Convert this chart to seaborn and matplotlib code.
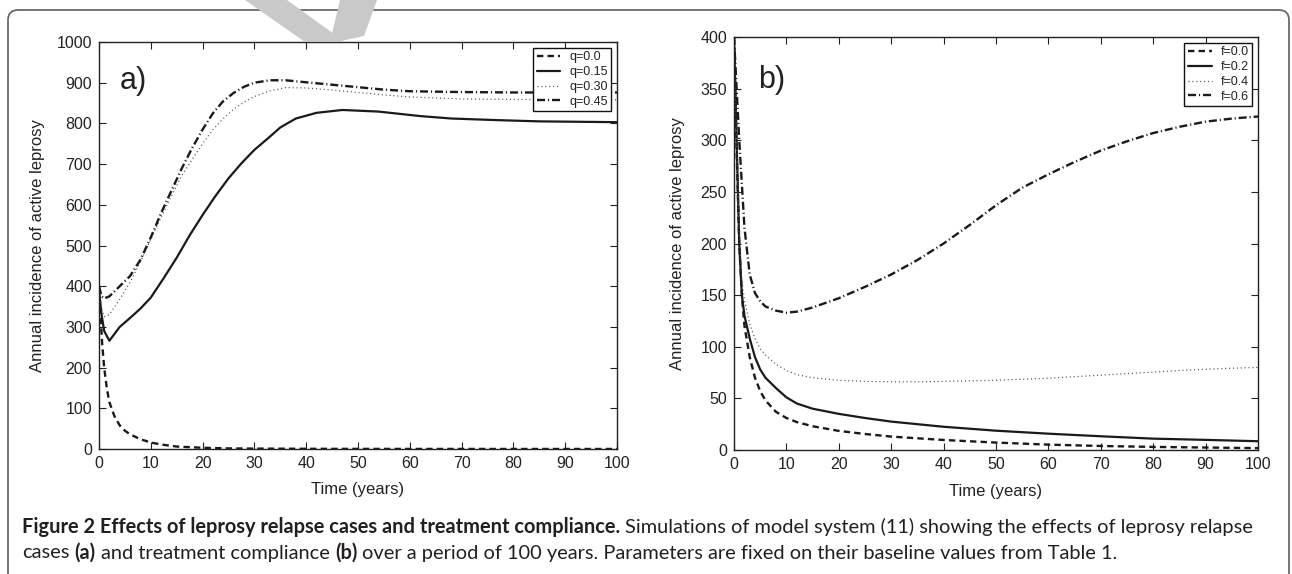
import numpy as np
import pandas as pd
import matplotlib
matplotlib.use("Agg")
import matplotlib.pyplot as plt
import seaborn as sns
from matplotlib.patches import FancyBboxPatch, Polygon

# ---------------- data ----------------
# Panel a) relapse fraction q
t_q00 = [0, 0.3, 0.6, 1, 1.5, 2, 3, 4, 5, 6, 8, 10, 12, 15, 20, 25, 30, 40, 50, 60, 70, 80, 90, 100]
v_q00 = [400, 330, 260, 200, 150, 115, 80, 58, 45, 36, 24, 16, 11, 6, 3, 1.5, 1, 0.5, 0.3, 0.2, 0.2, 0.1, 0.1, 0.1]

t_q15 = [0, 0.5, 1, 2, 4, 6, 8, 10, 12.5, 15, 17.5, 20, 22.5, 25, 27.5, 30, 32.5, 35, 38, 42, 47, 54, 62, 68, 77, 85, 100]
v_q15 = [390, 330, 290, 266, 300, 322, 345, 372, 420, 470, 525, 575, 622, 665, 702, 735, 762, 790, 812, 826, 833, 829, 818, 812, 808, 805, 803]

t_q30 = [0, 0.5, 1, 2, 4, 6, 8, 10, 12, 14, 16, 18, 20, 22, 24, 26, 28, 30, 33, 36, 40, 45, 50, 55, 60, 70, 80, 90, 100]
v_q30 = [400, 345, 325, 330, 368, 410, 460, 515, 570, 622, 672, 712, 750, 785, 812, 835, 852, 866, 880, 888, 887, 882, 876, 870, 865, 860, 859, 858, 858]

t_q45 = [0, 0.5, 1, 2, 4, 6, 8, 10, 12, 14, 16, 18, 20, 22, 24, 26, 28, 30, 33, 36, 40, 45, 50, 55, 60, 70, 80, 90, 100]
v_q45 = [400, 375, 370, 375, 400, 425, 465, 520, 580, 635, 690, 740, 785, 825, 855, 875, 890, 900, 906, 906, 901, 895, 889, 883, 879, 877, 876, 876, 876]

# Panel b) treatment compliance f
t_f00 = [0, 0.5, 1, 1.5, 2, 3, 4, 5, 6, 8, 10, 12, 15, 20, 25, 30, 40, 50, 60, 70, 80, 90, 100]
v_f00 = [400, 290, 200, 150, 120, 90, 70, 57, 48, 37, 31, 27, 23, 18.5, 15.5, 13, 9.7, 7.2, 5.2, 3.9, 3, 2.4, 1.8]

t_f02 = [0, 0.5, 1, 1.5, 2, 3, 4, 5, 6, 8, 10, 12, 15, 20, 25, 30, 40, 50, 60, 70, 80, 90, 100]
v_f02 = [400, 300, 200, 150, 130, 108, 90, 78, 70, 60, 51, 45, 40, 35, 31, 27.5, 22.5, 18.7, 15.8, 13.3, 11, 9.8, 8.5]

t_f04 = [0, 0.5, 1, 1.5, 2, 3, 4, 5, 6, 8, 10, 12, 15, 20, 25, 30, 35, 40, 45, 50, 55, 60, 65, 70, 75, 80, 85, 90, 95, 100]
v_f04 = [400, 300, 210, 165, 145, 122, 108, 98, 92, 83, 77, 73, 70, 67.5, 66.5, 66, 66, 66.5, 67, 67.5, 68.5, 69.5, 71, 72.5, 74, 75.5, 77, 78.2, 79.2, 80]

t_f06 = [0, 1, 2, 3, 4, 5, 6, 8, 10, 12, 15, 20, 25, 30, 35, 40, 45, 50, 55, 60, 65, 70, 75, 80, 85, 90, 95, 100]
v_f06 = [400, 300, 215, 170, 152, 144, 139, 135, 133, 134, 138, 147, 158, 170, 184, 200, 218, 237, 254, 267, 279, 290, 299, 307, 313, 318, 321, 323]

labels_a = ["q=0.0", "q=0.15", "q=0.30", "q=0.45"]
labels_b = ["f=0.0", "f=0.2", "f=0.4", "f=0.6"]
xticks = [0, 10, 20, 30, 40, 50, 60, 70, 80, 90, 100]
yticks_a = [0, 100, 200, 300, 400, 500, 600, 700, 800, 900, 1000]
yticks_b = [0, 50, 100, 150, 200, 250, 300, 350, 400]

# ---------------- style ----------------
sns.set_style("ticks")
plt.rcParams['font.family'] = ['Liberation Sans', 'DejaVu Sans']
plt.rcParams.update({
    'xtick.direction': 'in', 'ytick.direction': 'in',
    'xtick.top': True, 'ytick.right': True,
    'xtick.major.size': 5, 'ytick.major.size': 5,
    'xtick.major.width': 0.8, 'ytick.major.width': 0.8,
    'xtick.color': '#222222', 'ytick.color': '#222222',
    'axes.edgecolor': '#222222', 'axes.linewidth': 1.0,
    'lines.scale_dashes': False,
})

W, H = 1292, 574
fig = plt.figure(figsize=(W / 100, H / 100), dpi=100)
fig.patch.set_facecolor('white')

# frame of the figure panel (rounded box)
box = FancyBboxPatch((0.08, -0.3), 12.81, 5.64 + 0.3,
                     boxstyle="round,pad=0,rounding_size=0.1",
                     transform=fig.dpi_scale_trans, fill=False,
                     edgecolor='#6a6a6a', linewidth=1.3, zorder=0)
fig.patches.append(box)

# faint grey watermark fragment above panel a
wm1 = Polygon([(245, 0), (287, 0), (345, 42), (305, 42)], closed=True)
wm2 = Polygon([(340, 0), (377, 0), (364, 36), (336, 42), (330, 42)], closed=True)
for p in (wm1, wm2):
    xy = p.get_xy()
    p.set_xy(np.column_stack([xy[:, 0] / W, 1 - xy[:, 1] / H]))
    p.set_transform(fig.transFigure)
    p.set_facecolor('#c9c9c9')
    p.set_edgecolor('none')
    p.set_zorder(0)
    fig.patches.append(p)

def px_axes(x0, y_top, x1, y_bot):
    return [x0 / W, 1 - y_bot / H, (x1 - x0) / W, (y_bot - y_top) / H]

axA = fig.add_axes(px_axes(99, 42, 617, 449))
axB = fig.add_axes(px_axes(734, 37, 1258, 450))

styles = [
    dict(linestyle=(0, (4.6, 3.0)), linewidth=1.7, color='#1a1a1a'),
    dict(linestyle='-', linewidth=1.6, color='#1a1a1a'),
    dict(linestyle=(0, (0.8, 2.0)), linewidth=0.9, color='#555555'),
    dict(linestyle=(0, (5.8, 2.1, 0.8, 2.1)), linewidth=1.7, color='#1a1a1a'),
]

series_a = [(t_q00, v_q00), (t_q15, v_q15), (t_q30, v_q30), (t_q45, v_q45)]
series_b = [(t_f00, v_f00), (t_f02, v_f02), (t_f04, v_f04), (t_f06, v_f06)]

for ax, series, labels in ((axA, series_a, labels_a), (axB, series_b, labels_b)):
    for (t, v), lab, st in zip(series, labels, styles):
        df = pd.DataFrame({'t': t, 'v': v})
        sns.lineplot(data=df, x='t', y='v', ax=ax, label=lab, sort=True,
                     estimator=None, **st)

def finish(ax, yticks, ylim, panel, pxy, ylab_x):
    ax.set_xlim(0, 100)
    ax.set_ylim(*ylim)
    ax.set_xticks(xticks)
    ax.set_yticks(yticks)
    ax.tick_params(labelsize=11.5, pad=5, colors='#222222')
    ax.set_xlabel("Time (years)", fontsize=12, color='#222222')
    ax.set_ylabel("Annual incidence of active leprosy", fontsize=12, color='#222222')
    ax.xaxis.set_label_coords(0.5, -0.10)
    ax.xaxis.label.set_va('center')
    ax.yaxis.set_label_coords(ylab_x, 0.5)
    ax.yaxis.label.set_va('center')
    for s in ax.spines.values():
        s.set_visible(True)
    ax.text(pxy[0], pxy[1], panel, fontsize=22, ha='left', va='center',
            color='#222222', transform=ax.transData)
    leg = ax.legend(loc='upper right', prop={'size': 9, 'family': ['Liberation Sans', 'DejaVu Sans']},
                    frameon=True, fancybox=False,
                    handlelength=1.9, handletextpad=0.7, labelspacing=0.22,
                    borderpad=0.3, borderaxespad=0.45)
    fr = leg.get_frame()
    fr.set_edgecolor('#111111')
    fr.set_linewidth(1.0)
    fr.set_alpha(1)
    for t in leg.get_texts():
        t.set_color('#222222')

finish(axA, yticks_a, (0, 1000), "a)", (4.0, 903), -0.118)
finish(axB, yticks_b, (0, 400), "b)", (4.6, 358), -0.107)

# ---------------- caption ----------------
renderer = fig.canvas.get_renderer()
cap_family = ['Lato', 'DejaVu Sans']
cap_color = '#231f20'
line1 = [("Figure 2 Effects of leprosy relapse cases and treatment compliance.", True),
         ("Simulations of model system (11) showing the effects of leprosy relapse", False)]
line2 = [("cases", False), ("(a)", True), ("and treatment compliance", False), ("(b)", True),
         ("over a period of 100 years. Parameters are fixed on their baseline values from Table 1.", False)]

def measure(s, size, bold):
    t = fig.text(0, 0, s, fontsize=size, fontweight='bold' if bold else 'normal', family=cap_family)
    w = t.get_window_extent(renderer).width
    t.remove()
    return w

def space_w(size):
    return measure("x x", size, False) - measure("xx", size, False)

def run_width(runs, size):
    w = sum(measure(s, size, b) for s, b in runs)
    w += space_w(size) * (len(runs) - 1)
    return w

target = 1254 - 22
size0 = 12.0
w0 = run_width(line1, size0)
size = size0 * target / w0

def draw(runs, x, y, size):
    sp = space_w(size)
    for i, (s, b) in enumerate(runs):
        t = fig.text(x / W, 1 - y / H, s, fontsize=size, fontweight='bold' if b else 'normal',
                     family=cap_family, ha='left', va='center', color=cap_color)
        x += t.get_window_extent(renderer).width + sp

draw(line1, 22, 527, size)
draw(line2, 22, 553, size)

fig.savefig("out.png", dpi=100, facecolor='white')
